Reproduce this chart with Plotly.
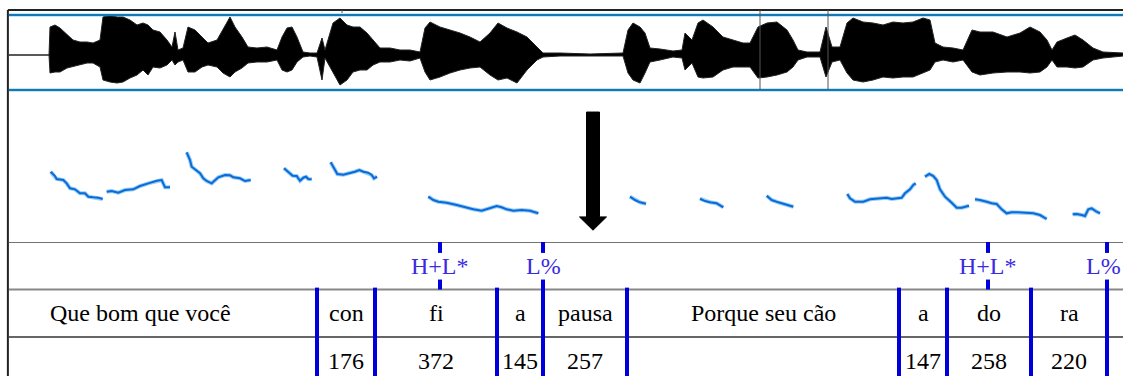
import plotly.graph_objects as go

# ---------------- data ----------------
# waveform envelope (time s, upper / lower amplitude)
wave_t = [0.000, 0.120, 0.123, 0.138, 0.153, 0.174, 0.192, 0.213, 0.234, 0.252, 0.273, 0.282, 0.303, 0.324,
          0.342, 0.363, 0.384, 0.402, 0.417, 0.432, 0.453, 0.474, 0.489, 0.498, 0.507, 0.522, 0.537, 0.558,
          0.579, 0.597, 0.624, 0.642, 0.663, 0.678, 0.699, 0.717, 0.744, 0.774, 0.804, 0.819, 0.834, 0.849,
          0.864, 0.882, 0.903, 0.924, 0.939, 0.948, 0.972, 0.993, 1.014, 1.032, 1.053, 1.074, 1.092, 1.113,
          1.143, 1.173, 1.203, 1.233, 1.248, 1.263, 1.293, 1.323, 1.353, 1.383, 1.413, 1.443, 1.467, 1.494,
          1.524, 1.554, 1.584, 1.602, 1.653, 1.743, 1.842, 1.857, 1.872, 1.893, 1.908, 1.923, 1.953, 1.992,
          2.019, 2.028, 2.049, 2.067, 2.082, 2.112, 2.142, 2.172, 2.202, 2.223, 2.247, 2.274, 2.304, 2.334,
          2.352, 2.367, 2.394, 2.433, 2.451, 2.469, 2.493, 2.514, 2.532, 2.562, 2.592, 2.622, 2.652, 2.682,
          2.712, 2.742, 2.763, 2.778, 2.802, 2.832, 2.862, 2.889, 2.913, 2.952, 2.994, 3.033, 3.063, 3.093,
          3.114, 3.129, 3.144, 3.174, 3.198, 3.222, 3.252, 3.282, 3.342]
wave_hi = [0.00, 0.00, 0.56, 0.60, 0.54, 0.40, 0.30, 0.26, 0.26, 0.24, 0.30, 0.76, 0.80, 0.76,
           0.76, 0.70, 0.60, 0.64, 0.60, 0.50, 0.46, 0.30, 0.16, 0.46, 0.10, 0.14, 0.56, 0.50,
           0.36, 0.24, 0.30, 0.50, 0.76, 0.56, 0.36, 0.16, 0.14, 0.16, 0.10, 0.36, 0.54, 0.56,
           0.36, 0.06, 0.04, 0.04, 0.34, 0.10, 0.64, 0.74, 0.60, 0.56, 0.56, 0.44, 0.30, 0.14,
           0.14, 0.10, 0.10, 0.06, 0.54, 0.66, 0.56, 0.50, 0.44, 0.36, 0.26, 0.44, 0.64, 0.54,
           0.46, 0.36, 0.16, 0.04, 0.04, 0.02, 0.04, 0.50, 0.64, 0.56, 0.44, 0.14, 0.12, 0.08,
           0.10, 0.44, 0.30, 0.64, 0.70, 0.56, 0.36, 0.30, 0.24, 0.24, 0.56, 0.64, 0.66, 0.50,
           0.30, 0.10, 0.06, 0.06, 0.56, 0.16, 0.16, 0.64, 0.74, 0.66, 0.64, 0.60, 0.66, 0.64,
           0.66, 0.74, 0.70, 0.24, 0.16, 0.14, 0.10, 0.50, 0.46, 0.46, 0.36, 0.44, 0.56, 0.46,
           0.30, 0.10, 0.26, 0.34, 0.40, 0.30, 0.14, 0.06, 0.04]
wave_lo = [0.00, 0.00, -0.36, -0.34, -0.34, -0.26, -0.24, -0.20, -0.16, -0.16, -0.24, -0.50, -0.54, -0.56,
           -0.54, -0.46, -0.40, -0.30, -0.40, -0.24, -0.26, -0.20, -0.10, -0.20, -0.14, -0.10, -0.34, -0.34,
           -0.24, -0.20, -0.24, -0.36, -0.44, -0.34, -0.26, -0.16, -0.14, -0.14, -0.10, -0.30, -0.34, -0.30,
           -0.14, -0.04, -0.02, -0.04, -0.50, -0.06, -0.34, -0.60, -0.50, -0.34, -0.30, -0.30, -0.20, -0.14,
           -0.14, -0.10, -0.12, -0.06, -0.34, -0.50, -0.44, -0.36, -0.30, -0.26, -0.24, -0.40, -0.50, -0.46,
           -0.56, -0.30, -0.10, -0.04, -0.02, -0.02, -0.02, -0.36, -0.50, -0.56, -0.36, -0.14, -0.10, -0.04,
           -0.06, -0.30, -0.16, -0.44, -0.46, -0.44, -0.30, -0.24, -0.24, -0.24, -0.46, -0.44, -0.40, -0.34,
           -0.24, -0.10, -0.04, -0.04, -0.44, -0.14, -0.10, -0.36, -0.50, -0.54, -0.50, -0.44, -0.46, -0.44,
           -0.44, -0.36, -0.30, -0.14, -0.10, -0.14, -0.10, -0.34, -0.40, -0.36, -0.34, -0.34, -0.36, -0.34,
           -0.24, -0.10, -0.24, -0.24, -0.26, -0.24, -0.10, -0.06, -0.02]

# pitch contour segments (time s, F0 Hz)
pitch_segments = [
    ([0.125, 0.138, 0.143, 0.163, 0.173, 0.183, 0.198, 0.213, 0.228, 0.238, 0.253, 0.268, 0.281],
     [285.0, 273.6, 265.8, 263.1, 254.4, 241.3, 238.6, 228.1, 228.1, 219.2, 217.6, 216.5, 213.1]),
    ([0.293, 0.308, 0.328, 0.348, 0.373, 0.393, 0.418, 0.443, 0.458, 0.468, 0.483],
     [232.3, 234.2, 229.7, 236.8, 238.6, 247.3, 254.4, 261.3, 263.1, 243.9, 243.9]),
    ([0.533, 0.543, 0.548, 0.563, 0.573, 0.583, 0.593, 0.608, 0.628, 0.648, 0.663, 0.673, 0.693, 0.708, 0.718, 0.725],
     [336.0, 315.8, 298.1, 287.6, 280.8, 267.6, 260.5, 254.4, 270.2, 276.3, 275.5, 270.2, 267.6, 260.5, 263.1, 263.1]),
    ([0.825, 0.838, 0.851, 0.863, 0.873, 0.883, 0.891, 0.898, 0.908],
     [293.9, 285.0, 274.4, 273.6, 261.3, 269.2, 271.8, 265.8, 265.0]),
    ([0.965, 0.973, 0.985, 1.003, 1.023, 1.038, 1.051, 1.063, 1.078, 1.088, 1.095, 1.104],
     [309.7, 298.1, 278.9, 277.1, 280.8, 285.0, 289.4, 285.0, 282.3, 276.3, 267.6, 272.3]),
    ([1.258, 1.273, 1.288, 1.313, 1.343, 1.368, 1.393, 1.418, 1.438, 1.463, 1.478, 1.493, 1.513, 1.538, 1.563, 1.583, 1.588],
     [219.2, 210.5, 206.0, 203.4, 197.3, 191.3, 186.0, 182.3, 188.6, 194.7, 191.3, 186.0, 182.3, 184.2, 182.3, 178.1, 175.5]),
    ([1.863, 1.878, 1.893, 1.911],
     [219.2, 210.5, 204.4, 200.7]),
    ([2.073, 2.088, 2.103, 2.123, 2.143],
     [213.9, 207.8, 204.4, 201.8, 191.3]),
    ([2.273, 2.288, 2.308, 2.328, 2.353],
     [221.8, 210.5, 204.4, 199.2, 192.8]),
    ([2.515, 2.523, 2.538, 2.563, 2.583, 2.613, 2.633, 2.648, 2.663, 2.678, 2.688, 2.703, 2.713, 2.720],
     [226.3, 215.0, 206.0, 206.0, 212.3, 213.9, 216.5, 213.1, 213.9, 216.5, 228.1, 238.6, 250.0, 254.4]),
    ([2.748, 2.761, 2.773, 2.783, 2.793, 2.808, 2.828, 2.843, 2.858, 2.880],
     [271.8, 278.9, 273.6, 263.1, 238.6, 219.2, 203.4, 190.2, 190.2, 195.5]),
    ([2.898, 2.913, 2.933, 2.948, 2.963, 2.978, 2.993, 3.008, 3.028, 3.053, 3.073, 3.093, 3.113],
     [212.3, 210.5, 206.0, 201.8, 200.0, 186.0, 175.5, 178.1, 178.1, 177.1, 175.5, 171.0, 160.5]),
    ([3.191, 3.203, 3.218, 3.228, 3.238, 3.248, 3.263, 3.273],
     [172.8, 173.6, 171.0, 168.4, 186.0, 188.6, 179.7, 175.5]),
]

# tone tier (points)
tone_times = [1.293, 1.602, 2.937, 3.294]
tone_labels = ["H+L*", "L%", "H+L*", "L%"]

# syllable tier (intervals) and durations (ms)
interval_starts = [-0.138, 0.924, 1.098, 1.464, 1.602, 1.854, 2.670, 2.814, 3.066]
interval_ends = [0.924, 1.098, 1.464, 1.602, 1.854, 2.670, 2.814, 3.066, 3.294]
syllables = ["Que bom que você", "con", "fi", "a", "pausa", "Porque seu cão", "a", "do", "ra"]
durations = ["", "176", "372", "145", "257", "", "147", "258", "220"]

# marks in the waveform panel
wave_marks = [2.253, 2.457]
top_tick = 0.999

# arrow (time s, Hz)
arrow_t = 1.752
arrow_top, arrow_neck, arrow_tip = 442.0, 166.0, 131.0
arrow_shaft_half, arrow_head_half = 0.0195, 0.0405

T_MAX = 3.342
BLUE = "#0000dd"
TONE_COLOR = "#3b2be0"
SERIF = "Liberation Serif, DejaVu Serif"
FS = 24

# ---------------- figure ----------------
fig = go.Figure()

# waveform
poly_x = wave_t + wave_t[::-1]
poly_y = wave_hi + wave_lo[::-1]
fig.add_trace(go.Scatter(x=poly_x, y=poly_y, mode="lines", fill="toself",
                         fillcolor="black", line=dict(color="#222", width=1),
                         xaxis="x", yaxis="y2", hoverinfo="skip", showlegend=False))

# pitch
px, py = [], []
for ts, hz in pitch_segments:
    px += ts + [None]
    py += hz + [None]
fig.add_trace(go.Scatter(x=px, y=py, mode="lines", connectgaps=False,
                         line=dict(color="rgba(80,170,240,0.6)", width=4),
                         xaxis="x", yaxis="y", hoverinfo="skip", showlegend=False))
fig.add_trace(go.Scatter(x=px, y=py, mode="lines", connectgaps=False,
                         line=dict(color="#0a6ad6", width=2),
                         xaxis="x", yaxis="y", hoverinfo="skip", showlegend=False))

shapes = []
# frame
shapes.append(dict(type="line", xref="paper", yref="paper", x0=-0.001, x1=-0.001, y0=0, y1=1,
                   line=dict(color="#222", width=2)))
shapes.append(dict(type="line", xref="paper", yref="paper", x0=-0.001, x1=1, y0=1, y1=1,
                   line=dict(color="#222", width=2)))
# waveform blue borders
for yv in (0.8, -0.7):
    shapes.append(dict(type="line", xref="paper", yref="y2", x0=0, x1=1, y0=yv, y1=yv,
                       line=dict(color="#1a95d8", width=2.5)))
    shapes.append(dict(type="line", xref="paper", yref="y2", x0=0, x1=1, y0=yv, y1=yv,
                       line=dict(color="#0b4f80", width=0.8)))
for tm in wave_marks:
    shapes.append(dict(type="line", xref="x", yref="y2", x0=tm, x1=tm, y0=-0.7, y1=0.9,
                       line=dict(color="#555", width=1)))
shapes.append(dict(type="line", xref="x", yref="y2", x0=top_tick, x1=top_tick, y0=0.84, y1=0.9,
                   line=dict(color="#555", width=1)))
# tier separators
shapes.append(dict(type="line", xref="paper", yref="y3", x0=0, x1=1, y0=3, y1=3,
                   line=dict(color="#444", width=1.5)))
shapes.append(dict(type="line", xref="paper", yref="y3", x0=0, x1=1, y0=2, y1=2,
                   line=dict(color="#888", width=2)))
shapes.append(dict(type="line", xref="paper", yref="y3", x0=0, x1=1, y0=1, y1=1,
                   line=dict(color="#333", width=1.5)))
# interval boundaries
bounds = sorted(set(interval_starts[1:] + interval_ends))
for b in bounds:
    shapes.append(dict(type="line", xref="x", yref="y3", x0=b, x1=b, y0=2.04, y1=0.0,
                       line=dict(color=BLUE, width=4)))
# tone ticks
for tt in tone_times:
    shapes.append(dict(type="line", xref="x", yref="y3", x0=tt, x1=tt, y0=3, y1=2.77,
                       line=dict(color=BLUE, width=4)))
    shapes.append(dict(type="line", xref="x", yref="y3", x0=tt, x1=tt, y0=2.21, y1=2.0,
                       line=dict(color=BLUE, width=4)))
# arrow
t = arrow_t
sw, hw = arrow_shaft_half, arrow_head_half
path = (f"M {t-sw},{arrow_top} L {t+sw},{arrow_top} L {t+sw},{arrow_neck} L {t+hw},{arrow_neck} "
        f"L {t},{arrow_tip} L {t-hw},{arrow_neck} L {t-sw},{arrow_neck} Z")
shapes.append(dict(type="path", xref="x", yref="y", path=path, fillcolor="black",
                   line=dict(color="black", width=1)))

annotations = []
for tt, lab in zip(tone_times, tone_labels):
    if T_MAX - tt < 0.06:
        # keep the label inside the window at the right edge
        ax_x, anchor = T_MAX, "right"
    else:
        ax_x, anchor = tt, "center"
    annotations.append(dict(x=ax_x, y=2.5, xref="x", yref="y3", text=lab, showarrow=False,
                            font=dict(family=SERIF, size=FS, color=TONE_COLOR),
                            xanchor=anchor, yanchor="middle"))
for s, e, lab, dur in zip(interval_starts, interval_ends, syllables, durations):
    mid = (s + e) / 2
    annotations.append(dict(x=mid, y=1.5, xref="x", yref="y3", text=lab, showarrow=False,
                            font=dict(family=SERIF, size=FS, color="black"),
                            xanchor="center", yanchor="middle"))
    if dur:
        annotations.append(dict(x=mid, y=0.5, xref="x", yref="y3", text=dur, showarrow=False,
                                font=dict(family=SERIF, size=FS, color="black"),
                                xanchor="center", yanchor="middle"))

fig.update_layout(
    width=1123, height=376, autosize=False,
    margin=dict(l=9, r=0, t=10, b=0),
    paper_bgcolor="white", plot_bgcolor="white",
    showlegend=False,
    font=dict(family=SERIF),
    xaxis=dict(range=[0, T_MAX], visible=False, domain=[0, 1]),
    yaxis=dict(range=[100, 500], domain=[0.36612, 0.78142], visible=False),
    # waveform panel extended 5 px below the lower blue line so the line is not clipped
    yaxis2=dict(range=[-0.8, 0.9], domain=[0.76776, 1.0], visible=False),
    yaxis3=dict(range=[0.18, 3.0], domain=[0.0, 0.36612], visible=False),
    shapes=shapes,
    annotations=annotations,
)

fig.write_html("out.html")
